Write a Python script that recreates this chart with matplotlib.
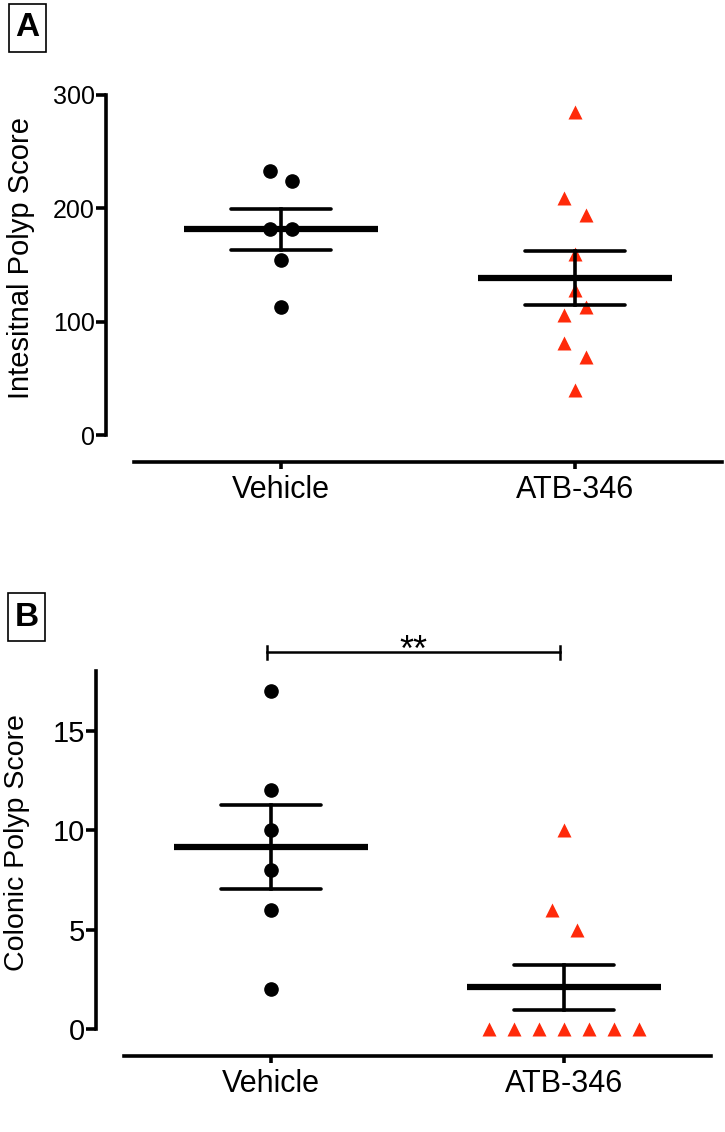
import numpy as np
import matplotlib
matplotlib.use("Agg")
import matplotlib.pyplot as plt
from matplotlib.patches import Rectangle

plt.rcParams['font.family'] = ['Liberation Sans', 'DejaVu Sans']

# groups
groups = ["Vehicle", "ATB-346"]

# panel A - intestinal polyp score
veh_a = [233, 224, 182, 182, 154, 113]
veh_a_jit = [-1, 1, -1, 1, 0, 0]
atb_a = [285, 209, 194, 160, 128, 113, 106, 81, 69, 40]
atb_a_jit = [0, -1, 1, 0, 0, 1, -1, -1, 1, 0]
yticks_a = [0, 100, 200, 300]

# panel B - colonic polyp score
veh_b = [17, 12, 10, 8, 6, 2]
veh_b_jit = [0, 0, 0, 0, 0, 0]
atb_b = [10, 6, 5, 0, 0, 0, 0, 0, 0, 0]
atb_b_jit = [0, -0.5, 0.5, -3, -2, -1, 0, 1, 2, 3]
yticks_b = [0, 5, 10, 15]

red = '#FF2A0A'
W, H = 725, 1132
fig = plt.figure(figsize=(W / 100, H / 100), dpi=100)


def sem(v):
    v = np.asarray(v, float)
    return v.std(ddof=1) / np.sqrt(len(v))


def panel(ax, veh, vjit, atb, ajit, step, yticks, ylim, ylabel, xlab_x,
          ytick_fs, ylab_fs):
    ax.plot(0 + np.array(vjit) * step, veh, 'o', color='black', ms=9.5,
            clip_on=False, zorder=3)
    ax.plot(1 + np.array(ajit) * step, atb, '^', color=red, ms=10.5,
            mec='none', clip_on=False, zorder=3)
    for i, vals in enumerate([veh, atb]):
        m = np.mean(vals)
        s = sem(vals)
        ax.plot([i - 0.33, i + 0.33], [m, m], color='black', lw=4.5,
                solid_capstyle='butt', zorder=4)
        ax.plot([i - 0.17, i + 0.17], [m + s, m + s], color='black', lw=2.6,
                solid_capstyle='round', zorder=4)
        ax.plot([i - 0.17, i + 0.17], [m - s, m - s], color='black', lw=2.6,
                solid_capstyle='round', zorder=4)
        ax.plot([i, i], [m - s, m + s], color='black', lw=2.6, zorder=4)
    ax.set_xlim(-0.5, 1.5)
    ax.set_ylim(*ylim)
    ax.set_xticks([0, 1], groups)
    ax.set_yticks(yticks, [str(t) for t in yticks])
    for sp in ['top', 'right']:
        ax.spines[sp].set_visible(False)
    ax.spines['left'].set_position(('outward', 20))
    ax.spines['bottom'].set_position(('outward', 19.5))
    ax.spines['left'].set_linewidth(2.6)
    ax.spines['bottom'].set_linewidth(2.6)
    ax.tick_params(axis='y', width=2.6, length=7, pad=1, labelsize=ytick_fs)
    ax.tick_params(axis='x', width=2.6, length=5, pad=4, labelsize=22)
    ax.set_ylabel(ylabel, fontsize=ylab_fs)
    ax.yaxis.set_label_coords(xlab_x, 0.52)


ax1 = fig.add_axes([134 / W, 1 - 435 / H, 588 / W, 340 / H])
panel(ax1, veh_a, veh_a_jit, atb_a, atb_a_jit, 0.0375, yticks_a, (0, 300),
      "Intesitnal Polyp Score", -0.168, 18, 21)

ax2 = fig.add_axes([124 / W, 1 - 1029 / H, 587 / W, 358 / H])
panel(ax2, veh_b, veh_b_jit, atb_b, atb_b_jit, 0.085, yticks_b, (0, 18),
      "Colonic Polyp Score", -0.16, 21, 20.5)

# significance bracket in panel B
x0, x1, yb = -0.013, 0.987, 18.95
ax2.plot([x0, x1], [yb, yb], color='black', lw=1.8, clip_on=False)
ax2.plot([x0, x0], [yb - 0.33, yb + 0.33], color='black', lw=1.8, clip_on=False)
ax2.plot([x1, x1], [yb - 0.33, yb + 0.33], color='black', lw=1.8, clip_on=False)
ax2.annotate("**", xy=((x0 + x1) / 2, yb), xytext=(0, -6.5),
             textcoords='offset points', ha='center', va='baseline',
             fontsize=26, annotation_clip=False)

# panel letters
for lab, (x, y) in [("A", (9, 4)), ("B", (8, 593))]:
    fig.patches.append(Rectangle((x / W, 1 - (y + 48) / H), 37 / W, 48 / H,
                                 transform=fig.transFigure, fill=False,
                                 lw=1.2, ec='black'))
    fig.text((x + 18.5) / W, 1 - (y + 24) / H, lab, ha='center', va='center',
             fontsize=24, fontweight='bold')

fig.savefig("out.png", dpi=100)
